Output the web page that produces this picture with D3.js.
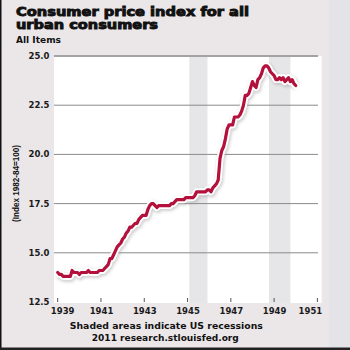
<!DOCTYPE html>
<html><head><meta charset="utf-8">
<script src="https://cdn.jsdelivr.net/npm/d3@7"></script>
<style>html,body{margin:0;padding:0;background:#ebe7e9;}svg{display:block;}</style>
</head><body>
<svg id="c" width="350" height="350"></svg>
<script>
// Monthly CPI-U (1982-84=100), starting Jan 1939, ending Jan 1950
const startYear = 1939;
const cpi1939 = [14.0,13.9,13.9,13.8,13.8,13.8,13.8,13.8,14.1,14.0,14.0,14.0];
const cpi1940 = [13.9,14.0,14.0,14.0,14.0,14.1,14.0,14.0,14.0,14.0,14.0,14.1];
const cpi1941 = [14.1,14.1,14.2,14.3,14.4,14.7,14.7,14.9,15.1,15.3,15.4,15.5];
const cpi1942 = [15.7,15.8,16.0,16.1,16.3,16.3,16.4,16.5,16.5,16.7,16.8,16.9];
const cpi1943 = [16.9,16.9,17.2,17.4,17.5,17.5,17.4,17.3,17.4,17.4,17.4,17.4];
const cpi1944 = [17.4,17.4,17.4,17.5,17.5,17.6,17.7,17.7,17.7,17.7,17.7,17.8];
const cpi1945 = [17.8,17.8,17.8,17.8,17.9,18.1,18.1,18.1,18.1,18.1,18.1,18.2];
const cpi1946 = [18.2,18.1,18.3,18.4,18.5,18.7,19.8,20.2,20.4,20.8,21.3,21.5];
const cpi1947 = [21.5,21.5,21.9,21.9,21.9,22.0,22.2,22.5,23.0,23.0,23.1,23.4];
const cpi1948 = [23.7,23.5,23.4,23.8,23.9,24.1,24.4,24.5,24.5,24.4,24.2,24.1];
const cpi1949 = [24.0,23.8,23.8,23.9,23.8,23.9,23.7,23.8,23.9,23.7,23.8,23.6];
const cpi1950 = [23.5];
const recessions = [[1945.08, 1945.92], [1948.76, 1949.75]];
const xTicks = [1939, 1941, 1943, 1945, 1947, 1949, 1951];
const yTicks = [12.5, 15.0, 17.5, 20.0, 22.5, 25.0];
const titleLines = ["Consumer price index for all", "urban consumers"];
const subtitle = "All Items";
const yTitle = "(Index 1982-84=100)";
const footer = ["Shaded areas indicate US recessions", "2011 research.stlouisfed.org"];

const values = [].concat(cpi1939,cpi1940,cpi1941,cpi1942,cpi1943,cpi1944,cpi1945,cpi1946,cpi1947,cpi1948,cpi1949,cpi1950);
const data = values.map((v,i)=>({t: startYear + i/12, v}));

const svg = d3.select("#c");
const x = d3.scaleLinear().domain([1939, 1951]).range([57.7, 317.4]);
const y = d3.scaleLinear().domain([12.5, 25]).range([302, 56]);

const defs = svg.append("defs");
defs.append("filter").attr("id","blur").attr("x","-10%").attr("y","-10%").attr("width","120%").attr("height","120%")
  .append("feGaussianBlur").attr("stdDeviation", 1.6);
defs.append("filter").attr("id","blur2").attr("x","-10%").attr("y","-10%").attr("width","120%").attr("height","120%")
  .append("feGaussianBlur").attr("stdDeviation", 0.6);

// background
svg.append("rect").attr("width",350).attr("height",350).attr("fill","#ebe7e9");
svg.append("rect").attr("x",329).attr("y",0).attr("width",21).attr("height",350).attr("fill","#e4e3e8");
// plot area
svg.append("rect").attr("x",54).attr("y",56).attr("width",267.7).attr("height",247).attr("fill","#ffffff");
// recessions
svg.selectAll("rect.rec").data(recessions).enter().append("rect").attr("class","rec")
  .attr("x",d=>x(d[0])).attr("width",d=>x(d[1])-x(d[0]))
  .attr("y",56).attr("height",247).attr("fill","#e6e5e8");
// gridlines
svg.selectAll("line.grid").data(yTicks.filter(d=>d>12.5)).enter().append("line").attr("class","grid")
  .attr("x1",54).attr("x2",318).attr("y1",d=>y(d)).attr("y2",d=>y(d))
  .attr("stroke",d=>d===25?"#a3a3a3":"#8a8a8a").attr("stroke-width",d=>d===25?2:1);
// x ticks
svg.selectAll("line.xt").data(xTicks).enter().append("line").attr("class","xt")
  .attr("x1",d=>x(d)).attr("x2",d=>x(d)).attr("y1",298).attr("y2",302)
  .attr("stroke","#555").attr("stroke-width",1);

// line
const line = d3.line().x(d=>x(d.t)).y(d=>y(d.v));
svg.append("path").datum(data).attr("d",line).attr("fill","none")
  .attr("stroke","#9a9a9a").attr("stroke-width",8).attr("stroke-opacity",0.45)
  .attr("stroke-linejoin","round").attr("transform","translate(1,1.5)").attr("filter","url(#blur)");
svg.append("path").datum(data).attr("d",line).attr("fill","none")
  .attr("stroke","#ffffff").attr("stroke-width",7)
  .attr("stroke-linejoin","round").attr("stroke-linecap","round").attr("filter","url(#blur2)");
svg.append("path").datum(data).attr("d",line).attr("fill","none")
  .attr("stroke","#b3103c").attr("stroke-width",3.2)
  .attr("stroke-linejoin","round").attr("stroke-linecap","round");

// y labels
svg.selectAll("text.yl").data(yTicks).enter().append("text").attr("class","yl")
  .attr("x",49.5).attr("y",d=>y(d)).attr("dy","0.36em").attr("text-anchor","end")
  .attr("font-family","DejaVu Sans").attr("font-weight","bold").attr("font-size",8.5)
  .attr("fill","#1a1a1a").text(d=>d3.format(".1f")(d));
// x labels
const xdx = {1939: 5, 1951: -7};
svg.selectAll("text.xl").data(xTicks).enter().append("text").attr("class","xl")
  .attr("x",d=>x(d)+(xdx[d]||0.5)).attr("y",313.5).attr("text-anchor","middle")
  .attr("font-family","DejaVu Sans").attr("font-weight","bold").attr("font-size",8.5)
  .attr("fill","#1a1a1a").text(d=>d);

// title
const titleY = [15.5, 28.5], titleW = [233, 142];
titleLines.forEach((t,i)=>{
  svg.append("text").attr("x",16).attr("y",titleY[i])
    .attr("font-family","DejaVu Sans").attr("font-weight","bold").attr("font-size",12)
    .attr("fill","#111").attr("stroke","#111").attr("stroke-width",0.9)
    .attr("textLength",titleW[i]).attr("lengthAdjust","spacingAndGlyphs").text(t);
});
svg.append("text").attr("x",16).attr("y",43.3)
  .attr("font-family","DejaVu Sans").attr("font-weight","bold").attr("font-size",8.5)
  .attr("fill","#111").attr("textLength",45).attr("lengthAdjust","spacingAndGlyphs").text(subtitle);
// y title
svg.append("text").attr("transform","translate(18.5,183.5) rotate(-90)").attr("text-anchor","middle")
  .attr("font-family","Liberation Sans Narrow, Liberation Sans").attr("font-weight","bold").attr("font-size",9.5)
  .attr("fill","#111").attr("textLength",77).attr("lengthAdjust","spacingAndGlyphs").text(yTitle);
// footer
const footY = [329, 340.5], footX = [166.3, 165.3], footW = [193, 147];
footer.forEach((t,i)=>{
  svg.append("text").attr("x",footX[i]).attr("y",footY[i]).attr("text-anchor","middle")
    .attr("font-family","DejaVu Sans").attr("font-weight","bold").attr("font-size",9)
    .attr("fill","#111").attr("textLength",footW[i]).attr("lengthAdjust","spacingAndGlyphs").text(t);
});
// borders
svg.append("rect").attr("x",0).attr("y",0).attr("width",1.5).attr("height",350).attr("fill","#111");
svg.append("rect").attr("x",0).attr("y",347.5).attr("width",350).attr("height",2.5).attr("fill","#222");
</script>
</body></html>
